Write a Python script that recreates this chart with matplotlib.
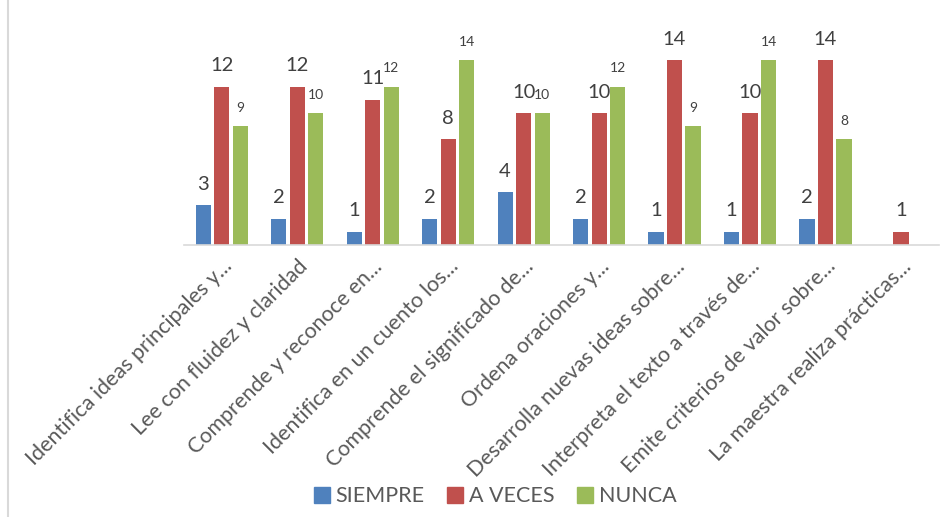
import matplotlib
matplotlib.use("Agg")
import matplotlib.pyplot as plt
import numpy as np
from matplotlib.lines import Line2D

categories = [
    "Identifica ideas principales y...",
    "Lee con fluidez y claridad",
    "Comprende y reconoce en...",
    "Identifica en un cuento los...",
    "Comprende el significado de...",
    "Ordena oraciones y...",
    "Desarrolla nuevas ideas sobre...",
    "Interpreta el texto a través de...",
    "Emite criterios de valor sobre...",
    "La maestra realiza prácticas...",
]
series_names = ["SIEMPRE", "A VECES", "NUNCA"]
siempre = [3, 2, 1, 2, 4, 2, 1, 1, 2, None]
a_veces = [12, 12, 11, 8, 10, 10, 14, 10, 14, 1]
nunca = [9, 10, 12, 14, 10, 12, 9, 14, 8, None]

colors = ["#4f81bd", "#c0504d", "#9bbb59"]
label_sizes = [14.5, 14.5, 10]

plt.rcParams['font.family'] = ['Lato', 'DejaVu Sans']

fig = plt.figure(figsize=(9.53, 5.17), dpi=100)
ax = fig.add_axes([0.193, 0.526, 0.792, 0.406])

x = np.arange(len(categories))
width = 0.2
offsets = [-0.245, 0.0, 0.245]
for s, (vals, col, fs, off) in enumerate(zip([siempre, a_veces, nunca], colors, label_sizes, offsets)):
    xs = [xi + off for xi, v in zip(x, vals) if v is not None]
    vs = [v for v in vals if v is not None]
    bars = ax.bar(xs, vs, width=width, color=col, zorder=2)
    for b, v in zip(bars, vs):
        ax.annotate(str(v), (b.get_x() + b.get_width() / 2, v), xytext=(0, 9),
                    textcoords="offset points", ha="center", va="bottom",
                    fontsize=fs, color="#404040")

ax.set_xlim(-0.5, len(categories) - 0.5)
ax.set_ylim(0, 15.9)
for sp in ["top", "right", "left"]:
    ax.spines[sp].set_visible(False)
ax.spines["bottom"].set_color("#d9d9d9")
ax.spines["bottom"].set_linewidth(1.2)
ax.set_yticks([])
ax.set_xticks(x)
ax.set_xticklabels(categories, rotation=45, ha="right", rotation_mode="anchor",
                   fontsize=15.5, color="#595959")
ax.tick_params(axis="x", length=0, pad=8)

handles = [Line2D([], [], marker="s", linestyle="none", markersize=11, color=c) for c in colors]
fig.legend(handles, series_names, loc="center", bbox_to_anchor=(0.518, 0.04), ncol=3,
           frameon=False, fontsize=15.5, labelcolor="#595959", handletextpad=0.15,
           columnspacing=0.9, handlelength=1.0)

fig.add_artist(Line2D([0.008, 0.008], [0, 1], transform=fig.transFigure, color="#d9d9d9", lw=1.5))

fig.savefig("out.png", dpi=100)
